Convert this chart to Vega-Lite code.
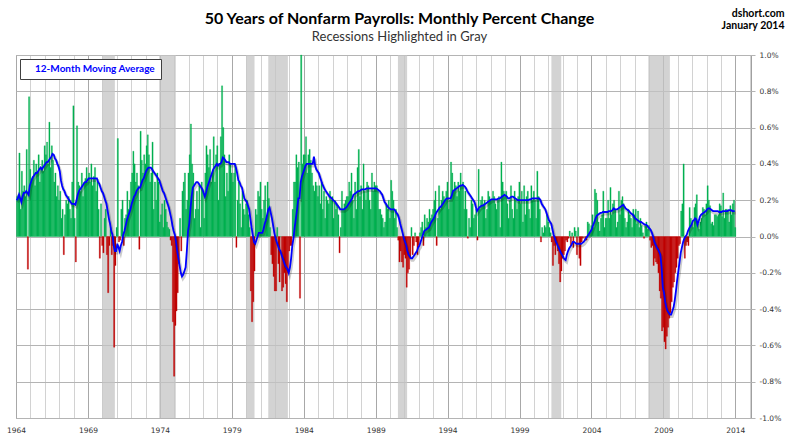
{
  "$schema": "https://vega.github.io/schema/vega-lite/v6.json",
  "width": 735,
  "height": 363,
  "autosize": {"type": "none"},
  "padding": {"left": 16, "top": 55, "right": 49, "bottom": 24},
  "background": "white",
  "title": {
    "text": "50 Years of Nonfarm Payrolls:  Monthly Percent Change",
    "subtitle": "Recessions  Highlighted in Gray",
    "anchor": "middle",
    "frame": "group",
    "dx": 16,
    "offset": -36,
    "font": "Lato",
    "fontSize": 16,
    "fontWeight": "bold",
    "color": "#000000",
    "subtitleFont": "Lato",
    "subtitleFontSize": 13,
    "subtitleColor": "#333333",
    "subtitlePadding": 4
  },
  "datasets": {
    "recessions": [
      {"s": "1970-01-01", "e": "1970-11-15"},
      {"s": "1973-12-15", "e": "1975-02-10"},
      {"s": "1980-01-01", "e": "1980-07-31"},
      {"s": "1981-07-15", "e": "1982-11-25"},
      {"s": "1990-07-20", "e": "1991-03-10"},
      {"s": "2001-03-20", "e": "2001-11-25"},
      {"s": "2007-12-15", "e": "2009-06-15"}
    ],
    "payrolls": [
      {"d":"1964-01","p":0.22,"a":0.20},{"d":"1964-02","p":0.23,"a":0.21},{"d":"1964-03","p":0.46,"a":0.23},{"d":"1964-04","p":0.15,"a":0.21},{"d":"1964-05","p":0.36,"a":0.19},{"d":"1964-06","p":0.25,"a":0.22},{"d":"1964-07","p":0.28,"a":0.24},{"d":"1964-08","p":0.22,"a":0.24},{"d":"1964-09","p":0.48,"a":0.25},{"d":"1964-10","p":-0.18,"a":0.24},{"d":"1964-11","p":0.77,"a":0.23},{"d":"1964-12","p":0.37,"a":0.28},
      {"d":"1965-01","p":0.30,"a":0.30},{"d":"1965-02","p":0.33,"a":0.32},{"d":"1965-03","p":0.42,"a":0.33},{"d":"1965-04","p":0.28,"a":0.34},{"d":"1965-05","p":0.40,"a":0.35},{"d":"1965-06","p":0.35,"a":0.35},{"d":"1965-07","p":0.45,"a":0.36},{"d":"1965-08","p":0.30,"a":0.37},{"d":"1965-09","p":0.38,"a":0.38},{"d":"1965-10","p":0.42,"a":0.37},{"d":"1965-11","p":0.36,"a":0.38},{"d":"1965-12","p":0.50,"a":0.39},
      {"d":"1966-01","p":0.45,"a":0.40},{"d":"1966-02","p":0.52,"a":0.41},{"d":"1966-03","p":0.40,"a":0.41},{"d":"1966-04","p":0.63,"a":0.42},{"d":"1966-05","p":0.38,"a":0.43},{"d":"1966-06","p":0.50,"a":0.44},{"d":"1966-07","p":0.42,"a":0.455},{"d":"1966-08","p":0.30,"a":0.45},{"d":"1966-09","p":0.35,"a":0.43},{"d":"1966-10","p":0.22,"a":0.42},{"d":"1966-11","p":0.28,"a":0.40},{"d":"1966-12","p":0.20,"a":0.385},
      {"d":"1967-01","p":0.25,"a":0.36},{"d":"1967-02","p":0.10,"a":0.31},{"d":"1967-03","p":0.15,"a":0.28},{"d":"1967-04","p":-0.10,"a":0.26},{"d":"1967-05","p":0.12,"a":0.25},{"d":"1967-06","p":0.20,"a":0.23},{"d":"1967-07","p":0.18,"a":0.22},{"d":"1967-08","p":0.22,"a":0.21},{"d":"1967-09","p":0.15,"a":0.20},{"d":"1967-10","p":0.10,"a":0.19},{"d":"1967-11","p":0.30,"a":0.18},{"d":"1967-12","p":0.72,"a":0.18},
      {"d":"1968-01","p":0.10,"a":0.18},{"d":"1968-02","p":-0.14,"a":0.175},{"d":"1968-03","p":0.61,"a":0.20},{"d":"1968-04","p":0.30,"a":0.23},{"d":"1968-05","p":0.28,"a":0.25},{"d":"1968-06","p":0.25,"a":0.26},{"d":"1968-07","p":0.35,"a":0.27},{"d":"1968-08","p":0.22,"a":0.28},{"d":"1968-09","p":0.30,"a":0.29},{"d":"1968-10","p":0.32,"a":0.30},{"d":"1968-11","p":0.38,"a":0.30},{"d":"1968-12","p":0.30,"a":0.31},
      {"d":"1969-01","p":0.35,"a":0.32},{"d":"1969-02","p":0.30,"a":0.32},{"d":"1969-03","p":0.40,"a":0.32},{"d":"1969-04","p":0.28,"a":0.32},{"d":"1969-05","p":0.33,"a":0.32},{"d":"1969-06","p":0.38,"a":0.32},{"d":"1969-07","p":0.25,"a":0.32},{"d":"1969-08","p":0.30,"a":0.32},{"d":"1969-09","p":0.15,"a":0.30},{"d":"1969-10","p":-0.12,"a":0.29},{"d":"1969-11","p":0.18,"a":0.27},{"d":"1969-12","p":-0.05,"a":0.25},
      {"d":"1970-01","p":-0.09,"a":0.24},{"d":"1970-02","p":0.10,"a":0.22},{"d":"1970-03","p":0.15,"a":0.20},{"d":"1970-04","p":-0.10,"a":0.18},{"d":"1970-05","p":-0.31,"a":0.14},{"d":"1970-06","p":-0.05,"a":0.10},{"d":"1970-07","p":0.05,"a":0.07},{"d":"1970-08","p":-0.10,"a":0.03},{"d":"1970-09","p":-0.05,"a":0.01},{"d":"1970-10","p":-0.61,"a":-0.05},{"d":"1970-11","p":-0.16,"a":-0.08},{"d":"1970-12","p":0.05,"a":-0.08},
      {"d":"1971-01","p":0.54,"a":-0.04},{"d":"1971-02","p":-0.03,"a":-0.06},{"d":"1971-03","p":-0.02,"a":-0.08},{"d":"1971-04","p":0.15,"a":-0.05},{"d":"1971-05","p":0.20,"a":-0.03},{"d":"1971-06","p":-0.05,"a":0.01},{"d":"1971-07","p":0.10,"a":0.03},{"d":"1971-08","p":0.12,"a":0.06},{"d":"1971-09","p":0.25,"a":0.09},{"d":"1971-10","p":0.15,"a":0.11},{"d":"1971-11","p":0.20,"a":0.13},{"d":"1971-12","p":0.30,"a":0.15},
      {"d":"1972-01","p":0.35,"a":0.18},{"d":"1972-02","p":0.47,"a":0.20},{"d":"1972-03","p":0.40,"a":0.22},{"d":"1972-04","p":0.30,"a":0.23},{"d":"1972-05","p":0.35,"a":0.25},{"d":"1972-06","p":0.28,"a":0.26},{"d":"1972-07","p":-0.07,"a":0.27},{"d":"1972-08","p":0.58,"a":0.27},{"d":"1972-09","p":0.42,"a":0.29},{"d":"1972-10","p":0.35,"a":0.31},{"d":"1972-11","p":0.45,"a":0.32},{"d":"1972-12","p":0.40,"a":0.34},
      {"d":"1973-01","p":0.50,"a":0.36},{"d":"1973-02","p":0.56,"a":0.37},{"d":"1973-03","p":0.45,"a":0.38},{"d":"1973-04","p":0.30,"a":0.38},{"d":"1973-05","p":0.35,"a":0.38},{"d":"1973-06","p":0.52,"a":0.37},{"d":"1973-07","p":0.15,"a":0.36},{"d":"1973-08","p":0.30,"a":0.35},{"d":"1973-09","p":0.20,"a":0.34},{"d":"1973-10","p":0.35,"a":0.33},{"d":"1973-11","p":0.30,"a":0.32},{"d":"1973-12","p":0.08,"a":0.31},
      {"d":"1974-01","p":0.12,"a":0.29},{"d":"1974-02","p":0.18,"a":0.27},{"d":"1974-03","p":0.05,"a":0.25},{"d":"1974-04","p":0.20,"a":0.24},{"d":"1974-05","p":0.15,"a":0.22},{"d":"1974-06","p":0.08,"a":0.20},{"d":"1974-07","p":0.05,"a":0.18},{"d":"1974-08","p":0.04,"a":0.16},{"d":"1974-09","p":-0.02,"a":0.13},{"d":"1974-10","p":-0.05,"a":0.10},{"d":"1974-11","p":-0.47,"a":0.06},{"d":"1974-12","p":-0.77,"a":0.03},
      {"d":"1975-01","p":-0.49,"a":0.01},{"d":"1975-02","p":-0.41,"a":-0.03},{"d":"1975-03","p":-0.31,"a":-0.08},{"d":"1975-04","p":-0.15,"a":-0.12},{"d":"1975-05","p":0.10,"a":-0.16},{"d":"1975-06","p":-0.08,"a":-0.20},{"d":"1975-07","p":0.25,"a":-0.22},{"d":"1975-08","p":0.30,"a":-0.21},{"d":"1975-09","p":0.35,"a":-0.19},{"d":"1975-10","p":0.15,"a":-0.17},{"d":"1975-11","p":0.20,"a":-0.08},{"d":"1975-12","p":0.35,"a":0.03},
      {"d":"1976-01","p":0.45,"a":0.07},{"d":"1976-02","p":0.62,"a":0.15},{"d":"1976-03","p":0.40,"a":0.22},{"d":"1976-04","p":0.35,"a":0.27},{"d":"1976-05","p":0.10,"a":0.28},{"d":"1976-06","p":0.15,"a":0.29},{"d":"1976-07","p":0.25,"a":0.30},{"d":"1976-08","p":0.15,"a":0.30},{"d":"1976-09","p":0.28,"a":0.29},{"d":"1976-10","p":0.05,"a":0.28},{"d":"1976-11","p":0.30,"a":0.27},{"d":"1976-12","p":0.25,"a":0.26},
      {"d":"1977-01","p":0.10,"a":0.24},{"d":"1977-02","p":0.35,"a":0.22},{"d":"1977-03","p":0.50,"a":0.24},{"d":"1977-04","p":0.45,"a":0.27},{"d":"1977-05","p":0.38,"a":0.29},{"d":"1977-06","p":0.48,"a":0.31},{"d":"1977-07","p":0.30,"a":0.33},{"d":"1977-08","p":0.35,"a":0.35},{"d":"1977-09","p":0.55,"a":0.37},{"d":"1977-10","p":0.30,"a":0.38},{"d":"1977-11","p":0.45,"a":0.39},{"d":"1977-12","p":0.50,"a":0.40},
      {"d":"1978-01","p":0.20,"a":0.39},{"d":"1978-02","p":0.40,"a":0.40},{"d":"1978-03","p":0.55,"a":0.40},{"d":"1978-04","p":0.83,"a":0.41},{"d":"1978-05","p":0.60,"a":0.435},{"d":"1978-06","p":0.45,"a":0.43},{"d":"1978-07","p":0.22,"a":0.42},{"d":"1978-08","p":0.35,"a":0.41},{"d":"1978-09","p":0.25,"a":0.41},{"d":"1978-10","p":0.45,"a":0.41},{"d":"1978-11","p":0.40,"a":0.40},{"d":"1978-12","p":0.35,"a":0.40},
      {"d":"1979-01","p":0.30,"a":0.40},{"d":"1979-02","p":0.35,"a":0.40},{"d":"1979-03","p":0.40,"a":0.40},{"d":"1979-04","p":-0.06,"a":0.38},{"d":"1979-05","p":0.20,"a":0.35},{"d":"1979-06","p":0.30,"a":0.31},{"d":"1979-07","p":0.18,"a":0.30},{"d":"1979-08","p":0.05,"a":0.28},{"d":"1979-09","p":0.25,"a":0.27},{"d":"1979-10","p":0.15,"a":0.24},{"d":"1979-11","p":0.12,"a":0.21},{"d":"1979-12","p":0.18,"a":0.20},
      {"d":"1980-01","p":0.20,"a":0.19},{"d":"1980-02","p":0.12,"a":0.17},{"d":"1980-03","p":0.05,"a":0.15},{"d":"1980-04","p":-0.30,"a":0.10},{"d":"1980-05","p":-0.47,"a":0.05},{"d":"1980-06","p":-0.36,"a":0.01},{"d":"1980-07","p":-0.19,"a":-0.03},{"d":"1980-08","p":0.15,"a":-0.04},{"d":"1980-09","p":0.12,"a":-0.02},{"d":"1980-10","p":0.25,"a":0.00},{"d":"1980-11","p":0.22,"a":0.02},{"d":"1980-12","p":0.30,"a":0.02},
      {"d":"1981-01","p":0.15,"a":0.02},{"d":"1981-02","p":0.10,"a":0.02},{"d":"1981-03","p":0.20,"a":0.04},{"d":"1981-04","p":0.28,"a":0.07},{"d":"1981-05","p":0.10,"a":0.09},{"d":"1981-06","p":0.30,"a":0.12},{"d":"1981-07","p":0.21,"a":0.15},{"d":"1981-08","p":0.05,"a":0.16},{"d":"1981-09","p":-0.10,"a":0.13},{"d":"1981-10","p":-0.15,"a":0.10},{"d":"1981-11","p":-0.22,"a":0.06},{"d":"1981-12","p":-0.30,"a":0.02},
      {"d":"1982-01","p":-0.30,"a":-0.01},{"d":"1982-02","p":0.05,"a":-0.03},{"d":"1982-03","p":-0.15,"a":-0.05},{"d":"1982-04","p":-0.25,"a":-0.07},{"d":"1982-05","p":0.00,"a":-0.08},{"d":"1982-06","p":-0.30,"a":-0.10},{"d":"1982-07","p":-0.28,"a":-0.12},{"d":"1982-08","p":-0.20,"a":-0.14},{"d":"1982-09","p":-0.26,"a":-0.16},{"d":"1982-10","p":-0.36,"a":-0.17},{"d":"1982-11","p":-0.20,"a":-0.18},{"d":"1982-12","p":-0.08,"a":-0.20},
      {"d":"1983-01","p":-0.05,"a":-0.17},{"d":"1983-02","p":-0.05,"a":-0.12},{"d":"1983-03","p":0.15,"a":-0.05},{"d":"1983-04","p":0.30,"a":-0.01},{"d":"1983-05","p":0.30,"a":0.05},{"d":"1983-06","p":0.45,"a":0.10},{"d":"1983-07","p":0.38,"a":0.15},{"d":"1983-08","p":0.41,"a":0.21},{"d":"1983-09","p":-0.34,"a":0.21},{"d":"1983-10","p":1.10,"a":0.30},{"d":"1983-11","p":0.40,"a":0.33},{"d":"1983-12","p":0.45,"a":0.35},
      {"d":"1984-01","p":0.45,"a":0.37},{"d":"1984-02","p":0.55,"a":0.39},{"d":"1984-03","p":0.35,"a":0.40},{"d":"1984-04","p":0.45,"a":0.40},{"d":"1984-05","p":0.48,"a":0.40},{"d":"1984-06","p":0.42,"a":0.40},{"d":"1984-07","p":0.35,"a":0.40},{"d":"1984-08","p":0.28,"a":0.40},{"d":"1984-09","p":0.25,"a":0.44},{"d":"1984-10","p":0.30,"a":0.39},{"d":"1984-11","p":0.28,"a":0.37},{"d":"1984-12","p":0.22,"a":0.36},
      {"d":"1985-01","p":0.28,"a":0.35},{"d":"1985-02","p":0.18,"a":0.33},{"d":"1985-03","p":0.30,"a":0.31},{"d":"1985-04","p":0.15,"a":0.29},{"d":"1985-05","p":0.25,"a":0.275},{"d":"1985-06","p":0.10,"a":0.26},{"d":"1985-07","p":0.22,"a":0.25},{"d":"1985-08","p":0.20,"a":0.24},{"d":"1985-09","p":0.18,"a":0.23},{"d":"1985-10","p":0.25,"a":0.22},{"d":"1985-11","p":0.20,"a":0.215},{"d":"1985-12","p":0.22,"a":0.21},
      {"d":"1986-01","p":0.10,"a":0.20},{"d":"1986-02","p":0.20,"a":0.195},{"d":"1986-03","p":0.15,"a":0.19},{"d":"1986-04","p":0.18,"a":0.175},{"d":"1986-05","p":0.12,"a":0.17},{"d":"1986-06","p":-0.09,"a":0.16},{"d":"1986-07","p":0.05,"a":0.15},{"d":"1986-08","p":0.25,"a":0.15},{"d":"1986-09","p":0.15,"a":0.15},{"d":"1986-10","p":0.18,"a":0.15},{"d":"1986-11","p":0.20,"a":0.155},{"d":"1986-12","p":0.22,"a":0.16},
      {"d":"1987-01","p":0.22,"a":0.17},{"d":"1987-02","p":0.30,"a":0.18},{"d":"1987-03","p":0.25,"a":0.19},{"d":"1987-04","p":0.35,"a":0.20},{"d":"1987-05","p":0.20,"a":0.21},{"d":"1987-06","p":0.10,"a":0.23},{"d":"1987-07","p":0.30,"a":0.235},{"d":"1987-08","p":0.15,"a":0.24},{"d":"1987-09","p":0.38,"a":0.245},{"d":"1987-10","p":0.48,"a":0.25},{"d":"1987-11","p":0.22,"a":0.25},{"d":"1987-12","p":0.28,"a":0.255},
      {"d":"1988-01","p":0.15,"a":0.26},{"d":"1988-02","p":0.40,"a":0.26},{"d":"1988-03","p":0.25,"a":0.26},{"d":"1988-04","p":0.20,"a":0.26},{"d":"1988-05","p":0.30,"a":0.265},{"d":"1988-06","p":0.28,"a":0.265},{"d":"1988-07","p":0.20,"a":0.265},{"d":"1988-08","p":0.15,"a":0.265},{"d":"1988-09","p":0.35,"a":0.265},{"d":"1988-10","p":0.25,"a":0.265},{"d":"1988-11","p":0.30,"a":0.265},{"d":"1988-12","p":0.28,"a":0.265},
      {"d":"1989-01","p":0.28,"a":0.265},{"d":"1989-02","p":0.25,"a":0.26},{"d":"1989-03","p":0.15,"a":0.255},{"d":"1989-04","p":0.15,"a":0.25},{"d":"1989-05","p":0.12,"a":0.24},{"d":"1989-06","p":0.10,"a":0.23},{"d":"1989-07","p":0.05,"a":0.21},{"d":"1989-08","p":0.08,"a":0.19},{"d":"1989-09","p":0.18,"a":0.18},{"d":"1989-10","p":0.15,"a":0.17},{"d":"1989-11","p":0.20,"a":0.16},{"d":"1989-12","p":0.10,"a":0.155},
      {"d":"1990-01","p":0.31,"a":0.15},{"d":"1990-02","p":0.25,"a":0.15},{"d":"1990-03","p":0.20,"a":0.15},{"d":"1990-04","p":0.10,"a":0.15},{"d":"1990-05","p":0.15,"a":0.14},{"d":"1990-06","p":0.05,"a":0.13},{"d":"1990-07","p":-0.02,"a":0.12},{"d":"1990-08","p":-0.14,"a":0.10},{"d":"1990-09","p":-0.08,"a":0.07},{"d":"1990-10","p":-0.14,"a":0.045},{"d":"1990-11","p":-0.17,"a":0.02},{"d":"1990-12","p":-0.10,"a":-0.01},
      {"d":"1991-01","p":-0.12,"a":-0.03},{"d":"1991-02","p":-0.28,"a":-0.05},{"d":"1991-03","p":-0.20,"a":-0.08},{"d":"1991-04","p":-0.18,"a":-0.10},{"d":"1991-05","p":-0.12,"a":-0.11},{"d":"1991-06","p":0.05,"a":-0.12},{"d":"1991-07","p":-0.10,"a":-0.12},{"d":"1991-08","p":-0.05,"a":-0.11},{"d":"1991-09","p":0.02,"a":-0.10},{"d":"1991-10","p":-0.03,"a":-0.09},{"d":"1991-11","p":-0.10,"a":-0.08},{"d":"1991-12","p":-0.05,"a":-0.06},
      {"d":"1992-01","p":0.02,"a":-0.05},{"d":"1992-02","p":0.05,"a":-0.03},{"d":"1992-03","p":0.08,"a":-0.01},{"d":"1992-04","p":-0.05,"a":0.01},{"d":"1992-05","p":0.12,"a":0.03},{"d":"1992-06","p":0.05,"a":0.035},{"d":"1992-07","p":0.10,"a":0.04},{"d":"1992-08","p":0.08,"a":0.045},{"d":"1992-09","p":0.15,"a":0.05},{"d":"1992-10","p":0.10,"a":0.065},{"d":"1992-11","p":0.12,"a":0.08},{"d":"1992-12","p":0.15,"a":0.09},
      {"d":"1993-01","p":0.20,"a":0.10},{"d":"1993-02","p":0.25,"a":0.115},{"d":"1993-03","p":-0.05,"a":0.13},{"d":"1993-04","p":0.10,"a":0.14},{"d":"1993-05","p":0.28,"a":0.15},{"d":"1993-06","p":0.15,"a":0.16},{"d":"1993-07","p":0.20,"a":0.165},{"d":"1993-08","p":0.25,"a":0.175},{"d":"1993-09","p":0.22,"a":0.185},{"d":"1993-10","p":0.20,"a":0.195},{"d":"1993-11","p":0.25,"a":0.205},{"d":"1993-12","p":0.30,"a":0.21},
      {"d":"1994-01","p":0.15,"a":0.21},{"d":"1994-02","p":0.20,"a":0.21},{"d":"1994-03","p":0.41,"a":0.21},{"d":"1994-04","p":0.35,"a":0.225},{"d":"1994-05","p":0.25,"a":0.25},{"d":"1994-06","p":0.30,"a":0.255},{"d":"1994-07","p":0.28,"a":0.26},{"d":"1994-08","p":0.22,"a":0.265},{"d":"1994-09","p":0.30,"a":0.27},{"d":"1994-10","p":0.25,"a":0.275},{"d":"1994-11","p":0.35,"a":0.28},{"d":"1994-12","p":0.28,"a":0.28},
      {"d":"1995-01","p":0.30,"a":0.285},{"d":"1995-02","p":0.15,"a":0.28},{"d":"1995-03","p":0.25,"a":0.275},{"d":"1995-04","p":0.15,"a":0.265},{"d":"1995-05","p":-0.01,"a":0.25},{"d":"1995-06","p":0.10,"a":0.24},{"d":"1995-07","p":0.05,"a":0.23},{"d":"1995-08","p":0.20,"a":0.22},{"d":"1995-09","p":0.18,"a":0.21},{"d":"1995-10","p":0.10,"a":0.20},{"d":"1995-11","p":0.12,"a":0.19},{"d":"1995-12","p":0.15,"a":0.165},
      {"d":"1996-01","p":-0.02,"a":0.14},{"d":"1996-02","p":0.37,"a":0.15},{"d":"1996-03","p":0.15,"a":0.16},{"d":"1996-04","p":0.20,"a":0.165},{"d":"1996-05","p":0.22,"a":0.17},{"d":"1996-06","p":0.18,"a":0.17},{"d":"1996-07","p":0.20,"a":0.175},{"d":"1996-08","p":0.10,"a":0.18},{"d":"1996-09","p":0.15,"a":0.185},{"d":"1996-10","p":0.25,"a":0.19},{"d":"1996-11","p":0.22,"a":0.195},{"d":"1996-12","p":0.20,"a":0.20},
      {"d":"1997-01","p":0.20,"a":0.205},{"d":"1997-02","p":0.25,"a":0.205},{"d":"1997-03","p":0.22,"a":0.205},{"d":"1997-04","p":0.18,"a":0.205},{"d":"1997-05","p":0.15,"a":0.205},{"d":"1997-06","p":0.20,"a":0.205},{"d":"1997-07","p":0.22,"a":0.21},{"d":"1997-08","p":0.05,"a":0.21},{"d":"1997-09","p":0.41,"a":0.215},{"d":"1997-10","p":0.30,"a":0.22},{"d":"1997-11","p":0.25,"a":0.225},{"d":"1997-12","p":0.22,"a":0.23},
      {"d":"1998-01","p":0.25,"a":0.225},{"d":"1998-02","p":0.18,"a":0.22},{"d":"1998-03","p":0.10,"a":0.21},{"d":"1998-04","p":0.20,"a":0.21},{"d":"1998-05","p":0.28,"a":0.215},{"d":"1998-06","p":0.15,"a":0.22},{"d":"1998-07","p":0.10,"a":0.22},{"d":"1998-08","p":0.25,"a":0.215},{"d":"1998-09","p":0.20,"a":0.21},{"d":"1998-10","p":0.15,"a":0.205},{"d":"1998-11","p":0.22,"a":0.20},{"d":"1998-12","p":0.30,"a":0.20},
      {"d":"1999-01","p":0.18,"a":0.20},{"d":"1999-02","p":0.25,"a":0.20},{"d":"1999-03","p":0.08,"a":0.20},{"d":"1999-04","p":0.28,"a":0.20},{"d":"1999-05","p":0.12,"a":0.20},{"d":"1999-06","p":0.22,"a":0.20},{"d":"1999-07","p":0.25,"a":0.20},{"d":"1999-08","p":0.15,"a":0.20},{"d":"1999-09","p":0.10,"a":0.205},{"d":"1999-10","p":0.28,"a":0.205},{"d":"1999-11","p":0.20,"a":0.21},{"d":"1999-12","p":0.25,"a":0.21},
      {"d":"2000-01","p":0.20,"a":0.21},{"d":"2000-02","p":0.10,"a":0.21},{"d":"2000-03","p":0.36,"a":0.21},{"d":"2000-04","p":0.22,"a":0.21},{"d":"2000-05","p":0.15,"a":0.21},{"d":"2000-06","p":-0.03,"a":0.20},{"d":"2000-07","p":0.05,"a":0.18},{"d":"2000-08","p":0.02,"a":0.17},{"d":"2000-09","p":0.06,"a":0.16},{"d":"2000-10","p":0.05,"a":0.15},{"d":"2000-11","p":0.12,"a":0.13},{"d":"2000-12","p":0.08,"a":0.11},
      {"d":"2001-01","p":0.05,"a":0.09},{"d":"2001-02","p":0.02,"a":0.08},{"d":"2001-03","p":-0.03,"a":0.07},{"d":"2001-04","p":-0.16,"a":0.04},{"d":"2001-05","p":-0.05,"a":0.01},{"d":"2001-06","p":-0.10,"a":-0.01},{"d":"2001-07","p":-0.04,"a":-0.03},{"d":"2001-08","p":-0.08,"a":-0.045},{"d":"2001-09","p":-0.15,"a":-0.06},{"d":"2001-10","p":-0.25,"a":-0.075},{"d":"2001-11","p":-0.19,"a":-0.09},{"d":"2001-12","p":-0.12,"a":-0.10},
      {"d":"2002-01","p":-0.10,"a":-0.115},{"d":"2002-02","p":-0.08,"a":-0.125},{"d":"2002-03","p":-0.02,"a":-0.13},{"d":"2002-04","p":-0.03,"a":-0.10},{"d":"2002-05","p":-0.01,"a":-0.08},{"d":"2002-06","p":0.03,"a":-0.065},{"d":"2002-07","p":-0.05,"a":-0.055},{"d":"2002-08","p":0.02,"a":-0.045},{"d":"2002-09","p":-0.06,"a":-0.03},{"d":"2002-10","p":0.05,"a":-0.03},{"d":"2002-11","p":0.03,"a":-0.035},{"d":"2002-12","p":-0.10,"a":-0.04},
      {"d":"2003-01","p":0.05,"a":-0.04},{"d":"2003-02","p":-0.12,"a":-0.04},{"d":"2003-03","p":-0.16,"a":-0.04},{"d":"2003-04","p":-0.03,"a":-0.04},{"d":"2003-05","p":-0.01,"a":-0.035},{"d":"2003-06","p":0.00,"a":-0.03},{"d":"2003-07","p":-0.02,"a":-0.02},{"d":"2003-08","p":-0.02,"a":-0.01},{"d":"2003-09","p":0.08,"a":0.00},{"d":"2003-10","p":0.07,"a":0.01},{"d":"2003-11","p":0.02,"a":0.02},{"d":"2003-12","p":0.06,"a":0.03},
      {"d":"2004-01","p":0.12,"a":0.045},{"d":"2004-02","p":0.05,"a":0.065},{"d":"2004-03","p":0.26,"a":0.08},{"d":"2004-04","p":0.24,"a":0.10},{"d":"2004-05","p":0.20,"a":0.115},{"d":"2004-06","p":0.08,"a":0.12},{"d":"2004-07","p":0.03,"a":0.125},{"d":"2004-08","p":0.10,"a":0.13},{"d":"2004-09","p":0.12,"a":0.13},{"d":"2004-10","p":0.25,"a":0.135},{"d":"2004-11","p":0.05,"a":0.135},{"d":"2004-12","p":0.10,"a":0.135},
      {"d":"2005-01","p":0.10,"a":0.135},{"d":"2005-02","p":0.20,"a":0.135},{"d":"2005-03","p":0.10,"a":0.14},{"d":"2005-04","p":0.27,"a":0.14},{"d":"2005-05","p":0.12,"a":0.14},{"d":"2005-06","p":0.18,"a":0.145},{"d":"2005-07","p":0.20,"a":0.155},{"d":"2005-08","p":0.15,"a":0.15},{"d":"2005-09","p":0.05,"a":0.15},{"d":"2005-10","p":0.08,"a":0.15},{"d":"2005-11","p":0.25,"a":0.155},{"d":"2005-12","p":0.12,"a":0.16},
      {"d":"2006-01","p":0.20,"a":0.165},{"d":"2006-02","p":0.22,"a":0.17},{"d":"2006-03","p":0.18,"a":0.175},{"d":"2006-04","p":0.10,"a":0.165},{"d":"2006-05","p":0.05,"a":0.155},{"d":"2006-06","p":0.08,"a":0.15},{"d":"2006-07","p":0.15,"a":0.145},{"d":"2006-08","p":0.12,"a":0.14},{"d":"2006-09","p":0.10,"a":0.13},{"d":"2006-10","p":0.05,"a":0.125},{"d":"2006-11","p":0.15,"a":0.12},{"d":"2006-12","p":0.12,"a":0.11},
      {"d":"2007-01","p":0.15,"a":0.10},{"d":"2007-02","p":0.07,"a":0.095},{"d":"2007-03","p":0.14,"a":0.09},{"d":"2007-04","p":0.05,"a":0.085},{"d":"2007-05","p":0.10,"a":0.08},{"d":"2007-06","p":0.06,"a":0.08},{"d":"2007-07","p":0.02,"a":0.075},{"d":"2007-08","p":-0.01,"a":0.07},{"d":"2007-09","p":0.06,"a":0.065},{"d":"2007-10","p":0.08,"a":0.065},{"d":"2007-11","p":0.04,"a":0.06},{"d":"2007-12","p":0.06,"a":0.05},
      {"d":"2008-01","p":-0.02,"a":0.045},{"d":"2008-02","p":-0.06,"a":0.035},{"d":"2008-03","p":-0.05,"a":0.02},{"d":"2008-04","p":-0.16,"a":0.00},{"d":"2008-05","p":-0.12,"a":-0.03},{"d":"2008-06","p":-0.14,"a":-0.045},{"d":"2008-07","p":-0.15,"a":-0.06},{"d":"2008-08","p":-0.20,"a":-0.07},{"d":"2008-09","p":-0.30,"a":-0.085},{"d":"2008-10","p":-0.34,"a":-0.10},{"d":"2008-11","p":-0.52,"a":-0.17},{"d":"2008-12","p":-0.50,"a":-0.28},
      {"d":"2009-01","p":-0.58,"a":-0.31},{"d":"2009-02","p":-0.62,"a":-0.36},{"d":"2009-03","p":-0.55,"a":-0.39},{"d":"2009-04","p":-0.50,"a":-0.41},{"d":"2009-05","p":-0.45,"a":-0.42},{"d":"2009-06","p":-0.42,"a":-0.43},{"d":"2009-07","p":-0.36,"a":-0.43},{"d":"2009-08","p":-0.28,"a":-0.41},{"d":"2009-09","p":-0.25,"a":-0.39},{"d":"2009-10","p":-0.20,"a":-0.35},{"d":"2009-11","p":-0.17,"a":-0.30},{"d":"2009-12","p":-0.12,"a":-0.24},
      {"d":"2010-01","p":-0.05,"a":-0.19},{"d":"2010-02","p":-0.04,"a":-0.14},{"d":"2010-03","p":0.14,"a":-0.09},{"d":"2010-04","p":0.18,"a":-0.06},{"d":"2010-05","p":0.40,"a":-0.03},{"d":"2010-06","p":-0.12,"a":-0.01},{"d":"2010-07","p":-0.05,"a":0.00},{"d":"2010-08","p":-0.03,"a":0.01},{"d":"2010-09","p":-0.05,"a":0.03},{"d":"2010-10","p":0.16,"a":0.045},{"d":"2010-11","p":0.10,"a":0.055},{"d":"2010-12","p":0.07,"a":0.065},
      {"d":"2011-01","p":0.05,"a":0.085},{"d":"2011-02","p":0.16,"a":0.09},{"d":"2011-03","p":0.18,"a":0.10},{"d":"2011-04","p":0.23,"a":0.095},{"d":"2011-05","p":0.07,"a":0.065},{"d":"2011-06","p":0.04,"a":0.085},{"d":"2011-07","p":0.08,"a":0.11},{"d":"2011-08","p":0.10,"a":0.12},{"d":"2011-09","p":0.16,"a":0.125},{"d":"2011-10","p":0.15,"a":0.13},{"d":"2011-11","p":0.12,"a":0.135},{"d":"2011-12","p":0.18,"a":0.14},
      {"d":"2012-01","p":0.28,"a":0.15},{"d":"2012-02","p":0.20,"a":0.155},{"d":"2012-03","p":0.17,"a":0.155},{"d":"2012-04","p":0.07,"a":0.15},{"d":"2012-05","p":0.08,"a":0.145},{"d":"2012-06","p":0.06,"a":0.14},{"d":"2012-07","p":0.12,"a":0.14},{"d":"2012-08","p":0.12,"a":0.14},{"d":"2012-09","p":0.11,"a":0.14},{"d":"2012-10","p":0.12,"a":0.14},{"d":"2012-11","p":0.18,"a":0.135},{"d":"2012-12","p":0.17,"a":0.135},
      {"d":"2013-01","p":0.11,"a":0.135},{"d":"2013-02","p":0.24,"a":0.14},{"d":"2013-03","p":0.10,"a":0.14},{"d":"2013-04","p":0.15,"a":0.14},{"d":"2013-05","p":0.15,"a":0.14},{"d":"2013-06","p":0.14,"a":0.14},{"d":"2013-07","p":0.08,"a":0.145},{"d":"2013-08","p":0.17,"a":0.145},{"d":"2013-09","p":0.12,"a":0.145},{"d":"2013-10","p":0.18,"a":0.14},{"d":"2013-11","p":0.20,"a":0.14},{"d":"2013-12","p":0.05,"a":0.14}
    ]
  },
  "layer": [
    {
      "data": {"name": "recessions"},
      "mark": {"type": "rect", "color": "#c4c4c4", "opacity": 0.75},
      "encoding": {
        "x": {"field": "s", "type": "temporal"},
        "x2": {"field": "e"}
      }
    },
    {
      "data": {"name": "payrolls"},
      "mark": {"type": "bar", "binSpacing": 0, "strokeWidth": 0.3},
      "encoding": {
        "x": {
          "field": "d",
          "timeUnit": "utcyearmonth",
          "type": "temporal",
          "scale": {
            "type": "utc",
            "domain": [
              {"year": 1964, "month": 1, "date": 1, "utc": true},
              {"year": 2015, "month": 2, "date": 3, "utc": true}
            ]
          },
          "axis": {
            "title": null,
            "orient": "bottom",
            "tickCount": {"interval": "year", "step": 1},
            "labelExpr": "utcyear(datum.value) % 5 == 4 ? utcFormat(datum.value, '%Y') : ''",
            "grid": true,
            "gridColor": {"condition": {"test": "utcyear(datum.value) % 5 == 4", "value": "#a8a8a8"}, "value": "#d2d2d2"},
            "ticks": false,
            "domain": false,
            "labelFont": "DejaVu Sans",
            "labelFontSize": 7.5,
            "labelColor": "#333333",
            "labelPadding": 8,
            "labelFlush": false,
            "labelOverlap": false,
            "labelBound": false
          }
        },
        "y": {
          "field": "p",
          "type": "quantitative",
          "scale": {"domain": [-1, 1], "clamp": true, "nice": false},
          "axis": {
            "orient": "right",
            "values": [-1, -0.8, -0.6, -0.4, -0.2, 0, 0.2, 0.4, 0.6, 0.8, 1],
            "tickCount": 20,
            "labelExpr": "replace(format(datum.value, '.1f'), '\u2212', '-') + '%'",
            "labelOverlap": false,
            "labelBound": false,
            "grid": true,
            "gridColor": "#b4b4b4",
            "tickColor": "#b4b4b4",
            "tickSize": 4,
            "domain": false,
            "labelFont": "DejaVu Sans",
            "labelFontSize": 7.5,
            "labelColor": "#333333",
            "labelPadding": 4,
            "title": ["dshort.com", "January 2014"],
            "titleAngle": 0,
            "titleAlign": "right",
            "titleBaseline": "top",
            "titleX": 33,
            "titleY": -47,
            "titleFont": "Lato",
            "titleFontSize": 10.5,
            "titleFontWeight": "bold",
            "titleColor": "#000000",
            "titleLineHeight": 12
          }
        },
        "color": {"condition": {"test": "datum.p < 0", "value": "#c00000"}, "value": "#00b050"},
        "stroke": {"condition": {"test": "datum.p < 0", "value": "#c00000"}, "value": "#00b050"}
      }
    },
    {
      "data": {"name": "payrolls"},
      "mark": {"type": "line", "color": "#000000", "opacity": 0.2, "strokeWidth": 3, "xOffset": 1, "yOffset": 2},
      "encoding": {
        "x": {"field": "d", "timeUnit": "utcyearmonth", "type": "temporal", "bandPosition": 0.5},
        "y": {"field": "a", "type": "quantitative"}
      }
    },
    {
      "data": {"name": "payrolls"},
      "mark": {"type": "line", "strokeWidth": 1.8},
      "encoding": {
        "x": {"field": "d", "timeUnit": "utcyearmonth", "type": "temporal", "bandPosition": 0.5},
        "y": {"field": "a", "type": "quantitative"},
        "color": {
          "datum": "12-Month Moving Average",
          "type": "nominal",
          "scale": {"range": ["#0000ff"]},
          "legend": {
            "orient": "top-left",
            "offset": 4,
            "title": null,
            "symbolSize": 0,
            "symbolOpacity": 0,
            "labelOffset": 0,
            "labelFont": "Lato",
            "labelFontSize": 10,
            "labelFontWeight": "bold",
            "labelColor": "#0000ff",
            "strokeColor": "#404040",
            "fillColor": "#ffffff",
            "padding": 5
          }
        }
      }
    }
  ],
  "config": {
    "view": {"stroke": "#a0a0a0"}
  }
}
